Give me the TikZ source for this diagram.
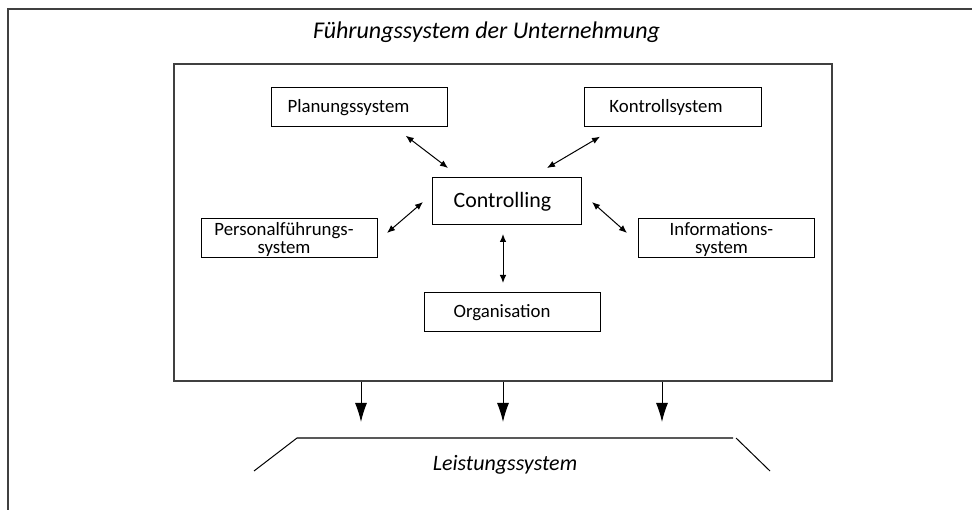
\documentclass[tikz,border=0pt]{standalone}
\usepackage{fontspec}
\setmainfont{Carlito}
\usetikzlibrary{arrows.meta}
\begin{document}
\begin{tikzpicture}[x=1pt,y=-1pt,
  box/.style={draw=black, line width=1pt, inner sep=0pt, minimum height=39pt,
    font=\fontsize{18.8}{16}\selectfont},
  dbl/.style={{Latex[length=8pt,width=6.5pt]}-{Latex[length=8pt,width=6.5pt]}, line width=1pt},
  down/.style={-{Latex[length=19pt,width=12pt]}, line width=1pt},
  frame/.style={draw=black!75, line width=1.3pt}]
\useasboundingbox (0,0) rectangle (972,510);
% outer frame (open to the right and bottom)
\coordinate (fb) at (8,520);
\coordinate (fc) at (8,9);
\coordinate (fr) at (985,9);
\draw[frame] (fb) -- (fc) -- (fr);
\node[anchor=base, font=\fontsize{24}{28}\selectfont\itshape] (title) at (486.5,38.7) {Führungssystem der Unternehmung};
% inner box
\node[frame, draw, inner sep=0pt, minimum width=658pt, minimum height=317pt] (inner) at (503,222.5) {};
% boxes
\node[box, minimum width=176pt] (plan) at (359,107.5) {Planungssystem\hspace*{21pt}};
\node[box, minimum width=177pt] (kontr) at (672.5,107.5) {Kontrollsystem\hspace*{13pt}};
\node[box, minimum width=149pt, minimum height=47pt, font=\fontsize{21.9}{24}\selectfont] (contr) at (506.5,201.5) {Controlling\hspace*{8pt}};
\node[box, minimum width=176pt] (pers) at (289,238.5) {\raisebox{-2pt}[\height][\depth]{\begin{tabular}{@{}c@{}}Personalführungs-\\[1pt]system\end{tabular}}\hspace*{10pt}};
\node[box, minimum width=176pt] (info) at (726,238.5) {\raisebox{-2pt}[\height][\depth]{\begin{tabular}{@{}c@{}}Informations-\\[1pt]system\end{tabular}}\hspace*{9pt}};
\node[box, minimum width=176pt] (orga) at (512,312.5) {Organisation\hspace*{20pt}};
% double arrows
\coordinate (pc1) at (405.7,135.7); \coordinate (pc2) at (448,168);
\coordinate (kc1) at (600,136.7);   \coordinate (kc2) at (547,168);
\coordinate (ec1) at (387,233);     \coordinate (ec2) at (423,202);
\coordinate (ic1) at (592,202);     \coordinate (ic2) at (627,233);
\coordinate (oc1) at (503,234);     \coordinate (oc2) at (503,283);
\draw[dbl] (pc1) -- (pc2);
\draw[dbl] (kc1) -- (kc2);
\draw[dbl] (ec1) -- (ec2);
\draw[dbl] (ic1) -- (ic2);
\draw[dbl] (oc1) -- (oc2);
% down arrows
\coordinate (d1) at (361,422);
\coordinate (d2) at (503,422);
\coordinate (d3) at (662,422);
\draw[down] (inner.south -| d1) -- (d1);
\draw[down] (inner.south -| d2) -- (d2);
\draw[down] (inner.south -| d3) -- (d3);
% Leistungssystem
\coordinate (l1) at (254,471);
\coordinate (l2) at (297,438);
\coordinate (l3) at (733,438);
\coordinate (r1) at (736,438);
\coordinate (r2) at (770,471);
\draw[line width=1pt] (l1) -- (l2) -- (l3);
\draw[line width=1pt] (r1) -- (r2);
\node[anchor=base, font=\fontsize{22}{26}\selectfont\itshape] (leist) at (505,471) {Leistungssystem};
\end{tikzpicture}
\end{document}
